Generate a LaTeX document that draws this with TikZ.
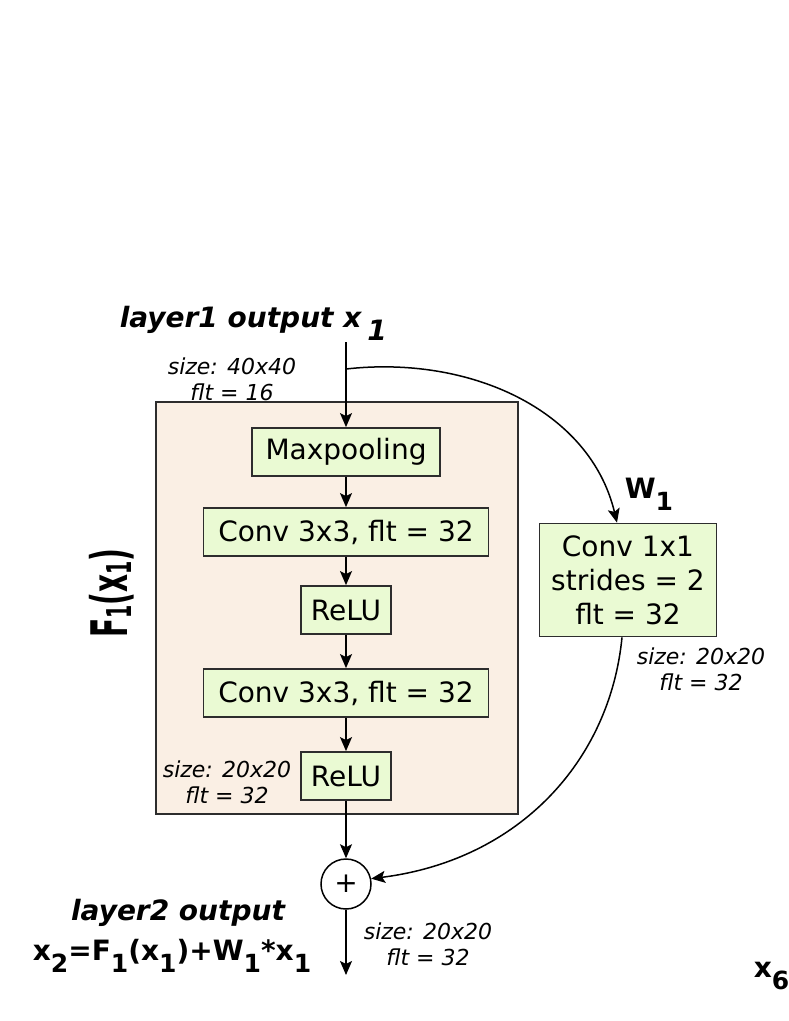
\documentclass[tikz,border=0pt]{standalone}
\usepackage{fontspec}
\setmainfont{DejaVu Sans}
\usetikzlibrary{arrows.meta}
\definecolor{blockbeige}{RGB}{250,239,228}
\definecolor{layergreen}{RGB}{234,250,211}
\definecolor{edgegray}{RGB}{45,45,45}
% lowered subscript as in the drawing
\newcommand{\fsub}[1]{\raisebox{-12pt}{\fontsize{25}{25}\selectfont #1}}
\begin{document}
\begin{tikzpicture}[x=1pt, y=-1pt, line width=1.5pt,
  >={Stealth[length=14pt,width=12pt,inset=3pt]},
  layer/.style={draw=edgegray, line width=1.8pt, fill=layergreen, inner sep=0pt,
    minimum height=48pt, font=\fontsize{28}{34}\selectfont},
  sizelbl/.style={align=center, inner sep=0pt, font=\fontsize{22}{26}\selectfont\itshape},
  heading/.style={inner sep=0pt, font=\fontsize{28}{34}\selectfont\bfseries\itshape},
  formula/.style={inner sep=0pt, font=\fontsize{28}{34}\selectfont\bfseries}]
  \useasboundingbox (0,0) rectangle (789,1021);
  % residual block F_1
  \node[draw=edgegray, line width=1.8pt, fill=blockbeige,
    minimum width=362pt, minimum height=412pt] (fblock) at (337,608) {};
  % layers inside the block
  \node[layer, minimum width=188pt] (maxp) at (346,452) {Maxpooling};
  \node[layer, minimum width=285pt] (conva) at (346,532) {Conv 3x3, flt = 32};
  \node[layer, minimum width=90pt] (relua) at (346,610) {ReLU};
  \node[layer, minimum width=285pt] (convb) at (346,693) {Conv 3x3, flt = 32};
  \node[layer, minimum width=90pt] (relub) at (346,776) {ReLU};
  % shortcut convolution W_1
  \node[layer, minimum width=177pt, minimum height=113pt, align=center] (shortcut)
    at (628,580) {Conv 1x1\\strides = 2\\flt = 32};
  % sum
  \node[circle, draw, minimum size=50pt, inner sep=0pt,
    font=\fontsize{28}{28}\selectfont] (plus) at (346,884) {+};
  % titles and labels
  \node[heading, anchor=base west] (intitle) at (119,327)
    {layer1 output x\hspace{6pt}\raisebox{-13pt}{1}};
  \node[heading, anchor=base] (outtitle) at (178,920) {layer2 output};
  \node[formula, anchor=base] (outformula) at (172,960)
    {x\fsub{2}=F\fsub{1}(x\fsub{1})+W\fsub{1}*x\fsub{1}};
  \node[formula, anchor=base west] (wlabel) at (624,498) {W\fsub{1}};
  \node[formula, anchor=base west] (xsix) at (753,977) {x\fsub{6}};
  \node[rotate=90, inner sep=0pt] (flabel) at (112,593)
    {\scalebox{1}[1.8]{\fontsize{28}{34}\selectfont\bfseries
      F\raisebox{-2pt}{\fontsize{19}{19}\selectfont 1}(x\raisebox{-2pt}{\fontsize{19}{19}\selectfont 1})}};
  \node[sizelbl] (insize) at (232,379) {size: 40x40\\flt = 16};
  \node[sizelbl] (fsize) at (227,782) {size: 20x20\\flt = 32};
  \node[sizelbl] (wsize) at (701,669) {size: 20x20\\flt = 32};
  \node[sizelbl] (outsize) at (428,944) {size: 20x20\\flt = 32};
  % main path
  \coordinate (in1) at (346,342);
  \coordinate (split) at (346,369);
  \coordinate (out2) at (346,975);
  \draw[->] (in1) -- (maxp);
  \draw[->] (maxp) -- (conva);
  \draw[->] (conva) -- (relua);
  \draw[->] (relua) -- (convb);
  \draw[->] (convb) -- (relub);
  \draw[->] (relub) -- (plus);
  \draw[->] (plus) -- (out2);
  % shortcut path
  \draw[->] (split) .. controls (470,355) and (590,410) .. ([xshift=-11pt]shortcut.north);
  \draw[->] ([xshift=-6pt]shortcut.south) .. controls (610,760) and (520,860) .. (plus.12);
\end{tikzpicture}
\end{document}
